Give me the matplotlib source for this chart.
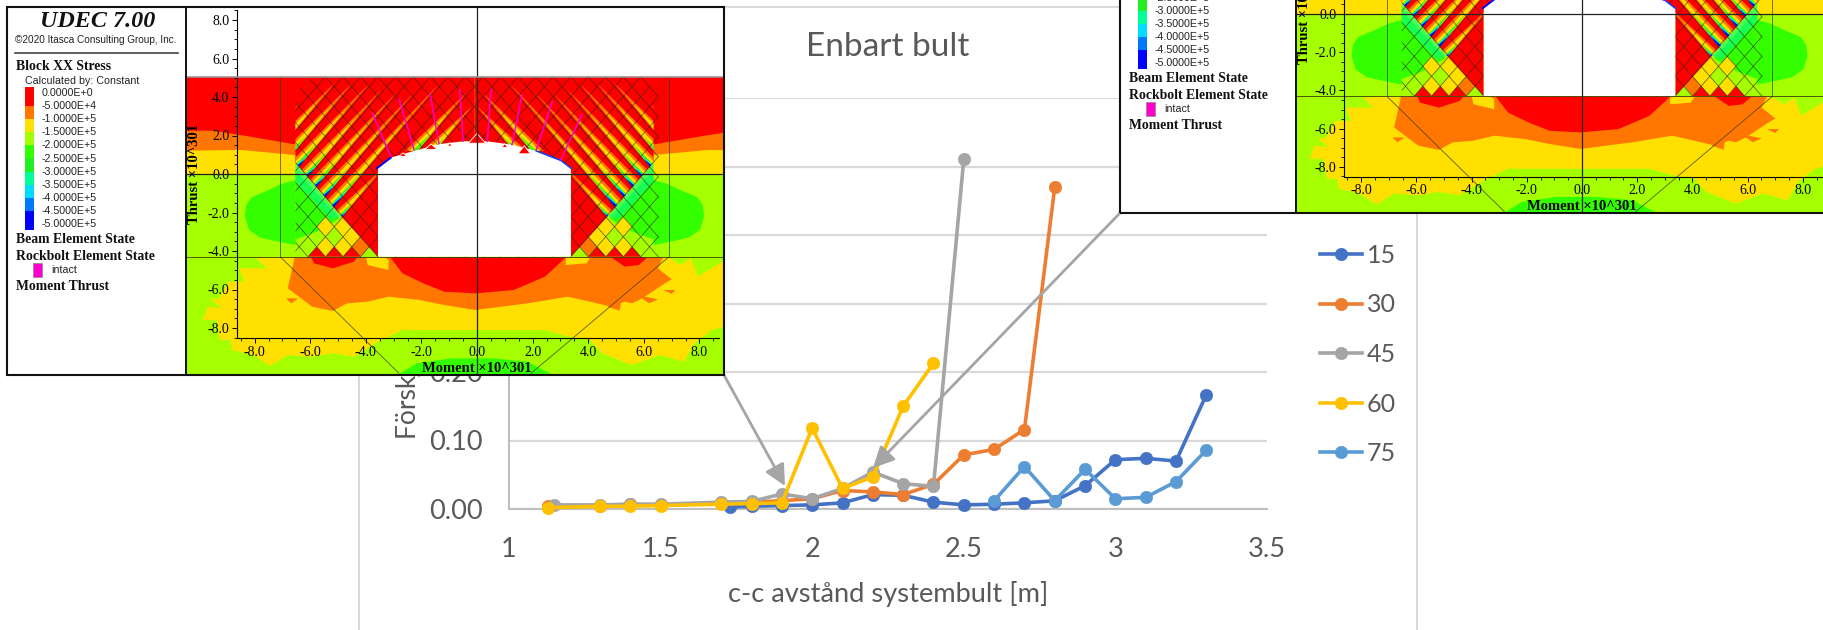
import matplotlib
matplotlib.use("Agg")
import matplotlib.pyplot as plt
from matplotlib.patches import Polygon, Rectangle

W, H_FIG = 1823, 630

# ---------- chart data ----------
x15 = [1.73, 1.8, 1.9, 2.0, 2.1, 2.2, 2.3, 2.4, 2.5, 2.6, 2.7, 2.8, 2.9, 3.0, 3.1, 3.2, 3.3]
y15 = [0.003, 0.004, 0.005, 0.006, 0.009, 0.021, 0.020, 0.010, 0.006, 0.007, 0.009, 0.012, 0.034, 0.072, 0.074, 0.070, 0.167]
x30 = [1.13, 1.3, 1.4, 1.5, 1.7, 1.8, 1.9, 2.0, 2.1, 2.2, 2.3, 2.4, 2.5, 2.6, 2.7, 2.8]
y30 = [0.004, 0.005, 0.007, 0.006, 0.009, 0.010, 0.012, 0.015, 0.027, 0.025, 0.021, 0.036, 0.079, 0.087, 0.116, 0.47]
x45 = [1.15, 1.3, 1.4, 1.5, 1.7, 1.8, 1.9, 2.0, 2.1, 2.2, 2.3, 2.4, 2.5]
y45 = [0.006, 0.006, 0.007, 0.007, 0.010, 0.011, 0.022, 0.015, 0.030, 0.054, 0.037, 0.033, 0.511]
x60 = [1.13, 1.3, 1.4, 1.5, 1.7, 1.8, 1.9, 2.0, 2.1, 2.2, 2.3, 2.4]
y60 = [0.002, 0.004, 0.004, 0.005, 0.007, 0.008, 0.009, 0.118, 0.030, 0.047, 0.150, 0.213]
x75 = [2.6, 2.7, 2.8, 2.9, 3.0, 3.1, 3.2, 3.3]
y75 = [0.012, 0.062, 0.012, 0.058, 0.015, 0.017, 0.040, 0.086]
series_names = ["15", "30", "45", "60", "75"]
series_colors = ["#4472C4", "#ED7D31", "#A5A5A5", "#FFC000", "#5B9BD5"]
x_ticks = [1, 1.5, 2, 2.5, 3, 3.5]
x_tick_labels = ["1", "1.5", "2", "2.5", "3", "3.5"]
y_ticks = [0, 0.1, 0.2, 0.3, 0.4, 0.5, 0.6]
y_tick_labels = ["0.00", "0.10", "0.20", "0.30", "0.40", "0.50", "0.60"]

# ---------- UDEC legend content ----------
udec_levels = ["0.0000E+0", "-5.0000E+4", "-1.0000E+5", "-1.5000E+5", "-2.0000E+5", "-2.5000E+5",
               "-3.0000E+5", "-3.5000E+5", "-4.0000E+5", "-4.5000E+5", "-5.0000E+5"]
udec_colors = ["#FF0000", "#FF7700", "#FFE000", "#A5FF00", "#33FF00", "#22EE22",
               "#00FF99", "#00DDFF", "#0077FF", "#0000FF"]
RED, ORANGE, YELLOW, YGREEN, GREEN = udec_colors[:5]
TEAL, CYAN, BLUE = udec_colors[6], udec_colors[7], udec_colors[9]

# ---------- UDEC model geometry (model units) ----------
LH, LS = 0.63, 1.65          # joint spacing and slope
WL, WR = -3.56, 3.38         # tunnel walls
FLOOR, ZTOP = -4.3, 5.05
XM = (WL + WR) / 2
roof = [(-3.6, 0.3), (-3.1, 0.85), (-2.26, 1.2), (-1.37, 1.55), (-0.5, 1.7), (0.37, 1.7),
        (1.26, 1.52), (2.13, 1.2), (3.02, 0.7), (3.38, 0.3)]
bolts = [((-3.10, 0.92), (-3.77, 3.17)), ((-2.26, 1.26), (-2.80, 3.86)), ((-1.37, 1.58), (-1.68, 4.12)),
         ((-0.50, 1.70), (-0.62, 4.38)), ((0.37, 1.70), (0.50, 4.38)), ((1.26, 1.52), (1.62, 4.12)),
         ((2.13, 1.26), (2.71, 3.77)), ((3.02, 0.74), (3.77, 3.08))]
# lane index, tip height of the coloured wedge
lanes = [(2, 3.5), (3, 4.2), (4, 0.3), (5, 4.7), (6, 4.2), (7, 4.2), (8, 4.4), (9, 4.7), (10, 4.7), (11, 4.75), (12, 3.6)]
lane_start = {2: 1.2, 3: 1.2}
yellow_cells = [(2, 1), (3, 1), (1.5, 2), (2, 3), (3, 3)]
orange_cells = [(1, 1)]
red_tris = [1.5, 2.5, 3.5]
green_lobe = [(-8.3, -1.6), (-8.1, -1.2), (-7.6, -0.9), (-7.0, -0.5), (-6.5, -0.3), (-5.9, -0.8), (-5.0, -2.3),
              (-5.4, -2.9), (-6.0, -3.4), (-6.5, -3.7), (-7.2, -3.5), (-7.8, -3.3), (-8.2, -2.9), (-8.35, -2.2)]

# outlines of the lower field (crop coordinates)
yellow_out = [(330, 52), (290, 52), (220, 55), (250, 85), (170, 85), (185, 125), (140, 125), (110, 180), (85, 175),
              (120, 205), (80, 200), (65, 240), (105, 240), (115, 300), (145, 300), (150, 330), (210, 345), (260, 378),
              (310, 345), (380, 350), (440, 340), (500, 350), (560, 310), (600, 290), (640, 270), (850, 270),
              (1050, 270), (1120, 290), (1180, 300), (1215, 340), (1300, 375), (1380, 345), (1450, 365), (1480, 310),
              (1530, 270), (1568, 260), (1568, 60), (1520, 90), (1490, 110), (1470, 55), (1440, 75), (1410, 55), (1380, 52)]
orange_out = [(330, 52), (310, 145), (380, 200), (440, 213), (480, 190), (540, 185), (600, 170), (690, 180), (760, 195),
              (850, 210), (1000, 190), (1115, 170), (1180, 185), (1240, 200), (1280, 185), (1300, 190), (1330, 175),
              (1395, 130), (1415, 118), (1375, 85), (1390, 52)]
red_dome = [(605, 52), (640, 100), (700, 130), (760, 155), (850, 160), (960, 150), (1050, 110), (1110, 52)]
red_bits = [[(378, 52), (385, 70), (440, 85), (500, 65), (510, 52)], [(1240, 52), (1280, 80), (1320, 75), (1345, 52)]]
yellow_bits = [[(535, 52), (540, 75), (600, 90), (600, 60), (590, 52)], [(1110, 52), (1110, 75), (1170, 70), (1180, 52)]]
orange_tris = [[(305, 175), (340, 175), (320, 190)], [(1230, 200), (1270, 175), (1265, 212)],
               [(1315, 165), (1375, 178), (1350, 190)], [(1390, 150), (1425, 150), (1415, 162)]]
green_dome = [(630, 403), (680, 370), (780, 355), (900, 355), (1000, 365), (1070, 403)]
octagon_L = [(290, 52), (630, 400)]
octagon_R = [(1405, 52), (1010, 400)]


def crop2model(pts):
    return [((zx / 2.877 - 297) / 27.8, (-66 - zy / 3) / 19.25) for zx, zy in pts]


def mirror(pts):
    return [(2 * XM - x, y) for x, y in pts]


# upper side bands outside the jointed zone
band_red = [(-11, ZTOP), (-5.5, ZTOP), (-5.5, 3.5), (-6.5, 1.4), (-7.0, 1.6), (-8.2, 1.9), (-9.5, 2.2), (-11, 2.2)]
band_orange = [(-11, 2.25), (-9.5, 2.25), (-8.2, 1.95), (-7.0, 1.65), (-6.4, 1.5), (-6.4, 0.9), (-7.0, 1.0), (-8.5, 1.2), (-11, 1.16)]
band_yellow = [(-11, 1.2), (-8.5, 1.25), (-7.0, 1.05), (-6.4, 0.95), (-6.0, 0.0), (-11, 0.0)]


def to_axes_rect(l, t, r, b):
    return [l / W, 1 - b / H_FIG, (r - l) / W, (b - t) / H_FIG]


def wedge(k, y0, y1, f0, f1, f_tip):
    xk = lambda y, f: WL - (k + 1 - f) * LH + (y - FLOOR) / LS
    return [(xk(y0, f0), y0), (xk(y0, f1), y0), (xk(y1, f_tip), y1)]


def draw_field(a):
    # whole plot: blank above the model, base colour below
    a.add_patch(Rectangle((-12, -12), 24, 12 + ZTOP, fc=YGREEN, ec="none", zorder=1))
    a.add_patch(Polygon(crop2model(yellow_out), fc=YELLOW, ec="none", zorder=2))
    a.add_patch(Polygon(crop2model(orange_out), fc=ORANGE, ec="none", zorder=3))
    a.add_patch(Polygon(crop2model(red_dome), fc=RED, ec="none", zorder=4))
    a.add_patch(Polygon(crop2model(green_dome), fc=GREEN, ec="none", zorder=2))
    for p in red_bits:
        a.add_patch(Polygon(crop2model(p), fc=RED, ec="none", zorder=4))
    for p in yellow_bits:
        a.add_patch(Polygon(crop2model(p), fc=YELLOW, ec="none", zorder=4))
    for p in orange_tris:
        a.add_patch(Polygon(crop2model(p), fc=ORANGE, ec="none", zorder=4))
    a.axhline(ZTOP, color="#999999", lw=1.1, zorder=9)

    for flip in (lambda p: p, mirror):
        a.add_patch(Polygon(flip(band_red), fc=RED, ec="none", zorder=2))
        a.add_patch(Polygon(flip(band_orange), fc=ORANGE, ec="none", zorder=2))
        a.add_patch(Polygon(flip(band_yellow), fc=YELLOW, ec="none", zorder=2))
        a.add_patch(Polygon(flip(green_lobe), fc=GREEN, ec="none", zorder=3))

        # lower flank of the jointed zone
        y_b = FLOOR + LS * (WL + 6.53)
        a.add_patch(Polygon(flip([(-6.53, FLOOR), (WL, FLOOR), (-4.87, -2.22), (-6.53, y_b)]),
                            fc=YGREEN, ec="none", zorder=3.2))
        a.add_patch(Polygon(flip([(-6.53, 0.2), (-4.95, -2.3), (-5.6, -2.9), (-6.53, -3.4)]),
                            fc=GREEN, ec="none", zorder=3.3))
        a.add_patch(Polygon(flip([(-6.53, 0.55), (-4.9, -2.2), (-5.25, -2.35), (-6.53, -0.4)]),
                            fc=TEAL, ec="none", alpha=0.55, zorder=3.35))
        dv, dh = LH * LS / 2, LH / 2
        for cells, col in ((yellow_cells, YELLOW), (orange_cells, ORANGE)):
            for ca, cb in cells:
                cx, cy = WL - ca * LH, FLOOR + cb * LH * LS / 2
                a.add_patch(Polygon(flip([(cx, cy - dv), (cx + dh, cy), (cx, cy + dv), (cx - dh, cy)]),
                                    fc=col, ec="none", zorder=3.4))
        for ca in red_tris:
            cx = WL - ca * LH
            a.add_patch(Polygon(flip([(cx - LH / 2, FLOOR), (cx + LH / 2, FLOOR), (cx, FLOOR + LH * LS / 2)]),
                                fc=RED, ec="none", zorder=3.5))
        # red wedge next to the wall
        a.add_patch(Polygon(flip([(WL, FLOOR), (-4.87, -2.22), (WL, -0.05)]), fc=RED, ec="none", zorder=3.6))

        # striped zone above the flank
        zone = Polygon(flip([(WL, -0.05), (-4.87, -2.22), (-6.53, y_b), (-6.53, 4.2), (-5.94, ZTOP), (XM, ZTOP), (XM, 0.0)]),
                       fc=RED, ec="none", zorder=3.7)
        a.add_patch(zone)
        for k, tip in lanes:
            y0 = lane_start.get(k, FLOOR + LS * k * LH / 2)
            L = tip - y0
            layers = [(ORANGE, 1.0, 0.25, 1.0, 0.85), (YELLOW, 0.72, 0.48, 0.96, 0.8), (GREEN, 0.3, 0.68, 0.94, 0.85),
                      (TEAL, 0.18, 0.74, 0.96, 0.88), (CYAN, 0.13, 0.78, 0.97, 0.9), (BLUE, 0.09, 0.8, 1.0, 0.95)]
            for i, (col, frac, f0, f1, ft) in enumerate(layers):
                if k < 4 and i > 2:
                    continue
                p = Polygon(flip(wedge(k, y0, y0 + L * frac, f0, f1, ft)), fc=col, ec="none", zorder=3.8 + i * 0.01)
                a.add_patch(p)
                p.set_clip_path(zone)

    # joint lattice, clipped to the jointed zone
    clip = Polygon([(-6.53, FLOOR), (-6.53, 4.2), (-5.94, ZTOP), (5.94, ZTOP), (6.53, 4.2), (6.53, FLOOR)],
                   fc="none", ec="none", zorder=5)
    a.add_patch(clip)
    for k in range(-28, 29):
        x0 = WL + k * LH
        for sgn in (1, -1):
            ln, = a.plot([x0 - 12 * sgn / LS, x0 + 12 * sgn / LS], [FLOOR - 12, FLOOR + 12], color="#2a2a10",
                         lw=0.55, alpha=0.7, zorder=5.1)
            ln.set_clip_path(clip)

    # tunnel opening
    a.add_patch(Polygon([(WL, FLOOR), (WL, 0.3)] + roof[1:-1] + [(WR, 0.3), (WR, FLOOR)], fc="white", ec="none", zorder=6))
    rx, ry = zip(*roof)
    a.plot(rx[:2], ry[:2], color="#0000FF", lw=1.4, zorder=6.1)
    a.plot(rx[-3:], ry[-3:], color="#0044FF", lw=1.1, zorder=6.1)
    for cx, cy, wd, ht in [(-2.66, 0.92, 0.28, 0.18), (-1.65, 1.28, 0.42, 0.28), (-0.98, 1.45, 0.16, 0.18),
                           (0.0, 1.6, 0.62, 0.5), (1.0, 1.38, 0.2, 0.2), (1.7, 1.05, 0.44, 0.42)]:
        a.add_patch(Polygon([(cx - wd / 2, cy), (cx + wd / 2, cy), (cx, cy + ht)], fc=RED, ec="white", lw=0.6, zorder=6.2))
    for (x0, y0), (x1, y1) in bolts:
        a.plot([x0, x1], [y0, y1], color="#FF00CC", lw=1.1, zorder=6.3)

    # structural outlines
    line = dict(color="#3a3a10", lw=0.6, alpha=0.8, zorder=7)
    a.plot([-7.07, -7.07], [FLOOR, ZTOP], **line)
    a.plot([6.9, 6.9], [FLOOR, ZTOP], **line)
    a.plot(*zip(*crop2model(octagon_L)), **line)
    a.plot(*zip(*crop2model(octagon_R)), **line)
    a.axhline(FLOOR, color="#3a3a10", lw=0.7, alpha=0.85, zorder=7)
    a.axhline(0, color="#222222", lw=0.9, zorder=7)
    a.axvline(0, color="#222222", lw=0.9, zorder=7)


def draw_udec(frame_l, frame_t, frame_r, frame_b, divider, x0, y0, ux, uy):
    # legend strip, pixel-like coordinates relative to the frame
    lg = fig.add_axes(to_axes_rect(frame_l, frame_t, divider, frame_b), zorder=5)
    lg.set_xlim(0, divider - frame_l)
    lg.set_ylim(frame_b - frame_t, 0)
    lg.set_facecolor("white")
    lg.set_xticks([])
    lg.set_yticks([])
    for s in lg.spines.values():
        s.set_visible(False)
    serif = "Liberation Serif"
    sans = "Liberation Sans"
    bold = dict(family=serif, weight="bold", size=9.9, va="center", color="#111111")
    small = dict(family=sans, size=7.7, va="center", color="#222222")
    lg.text(91, 14.5, "UDEC 7.00", family=serif, weight="bold", style="italic", size=17.4, ha="center", va="center", color="#111111")
    lg.text(89, 33, "©2020 Itasca Consulting Group, Inc.", family=sans, size=7.2, ha="center", va="center", color="#222222")
    lg.plot([8, 171], [45.5, 45.5], color="#444444", lw=1.2)
    lg.text(9, 59, "Block XX Stress", **bold)
    lg.text(18, 73.5, "Calculated by: Constant", **small)
    edges = [80, 99, 112, 125, 138, 151, 164.6, 178, 191, 204, 223]
    for c, e0, e1 in zip(udec_colors, edges[:-1], edges[1:]):
        lg.add_patch(Rectangle((17.5, e0), 9, e1 - e0, fc=c, ec="none"))
    for i, t in enumerate(udec_levels):
        lg.text(35, 86.3 + 13.05 * i, t, **small)
    lg.text(9, 232.5, "Beam Element State", **bold)
    lg.text(9, 249.5, "Rockbolt Element State", **bold)
    lg.add_patch(Rectangle((26, 256), 9, 14, fc="#FF00CC", ec="#888888", lw=0.5))
    lg.text(44, 263, "intact", **small)
    lg.text(9, 279.5, "Moment Thrust", **bold)

    # model plot
    a = fig.add_axes(to_axes_rect(divider, frame_t, frame_r, frame_b), zorder=5)
    a.set_xlim((divider - x0) / ux, (frame_r - x0) / ux)
    a.set_ylim((y0 - frame_b) / uy, (y0 - frame_t) / uy)
    a.set_facecolor("white")
    draw_field(a)
    a.set_axisbelow(False)
    for s in ("top", "right"):
        a.spines[s].set_visible(False)
    a.spines["left"].set_position(("data", -8.63))
    a.spines["bottom"].set_position(("data", -8.52))
    a.spines["left"].set_bounds(-8.52, 8.5)
    a.spines["bottom"].set_bounds(-8.63, 8.7)
    for s in ("left", "bottom"):
        a.spines[s].set_linewidth(0.8)
        a.spines[s].set_zorder(8)
    ticks = [-8, -6, -4, -2, 0, 2, 4, 6, 8]
    labels = ["-8.0", "-6.0", "-4.0", "-2.0", "0.0", "2.0", "4.0", "6.0", "8.0"]
    minors = [v * 0.5 for v in range(-17, 18)]
    a.set_xticks(ticks, labels, family=serif, size=10)
    a.set_yticks(ticks, labels, family=serif, size=10)
    a.set_xticks(minors, minor=True)
    a.set_yticks(minors, minor=True)
    a.tick_params(axis="both", which="major", length=3.5, width=0.7, pad=2, direction="out")
    a.tick_params(axis="both", which="minor", length=2, width=0.6, direction="out")
    a.text(0, (y0 - (frame_b - 7)) / uy, "Moment ×10^301", family=serif, weight="bold", size=10.5,
           ha="center", va="center", color="black", zorder=9)
    a.text((divider + 9 - x0) / ux, 0, "Thrust ×10^301", family=serif, weight="bold", size=10.5, rotation=90,
           ha="center", va="center", color="black", zorder=9)
    # frame around the whole window
    border = Rectangle((frame_l / W, 1 - frame_b / H_FIG), (frame_r - frame_l) / W, (frame_b - frame_t) / H_FIG,
                       transform=fig.transFigure, fc="none", ec="#111111", lw=1.5, zorder=20)
    fig.add_artist(border)
    div = plt.Line2D([divider / W] * 2, [1 - frame_b / H_FIG, 1 - frame_t / H_FIG], transform=fig.transFigure,
                     color="#111111", lw=1.4, zorder=20)
    fig.add_artist(div)


fig = plt.figure(figsize=(W / 100, H_FIG / 100), dpi=100, facecolor="white")

# chart frame and connector arrows share a pixel layer
back = fig.add_axes([0, 0, 1, 1], zorder=0)
back.set_xlim(0, W)
back.set_ylim(H_FIG, 0)
back.axis("off")
frame_col = "#D9D9D9"
back.plot([359, 359, 1417, 1417], [640, 7, 7, 640], color=frame_col, lw=1.5, solid_joinstyle="miter")

ax = fig.add_axes(to_axes_rect(509, 98, 1267, 509), zorder=1)
ax.patch.set_alpha(0)
font = "Lato"
txt = "#595959"
all_series = [(x15, y15), (x30, y30), (x45, y45), (x60, y60), (x75, y75)]
for (xs, ys), name, col in zip(all_series, series_names, series_colors):
    ax.plot(xs, ys, color=col, lw=2.6, marker="o", ms=9, mec=col, mew=0.4, label=name, clip_on=False, zorder=3)
ax.set_xlim(1, 3.5)
ax.set_ylim(0, 0.6)
ax.set_xticks(x_ticks, x_tick_labels, family=font, size=19.5, color=txt)
ax.set_yticks(y_ticks, y_tick_labels, family=font, size=19.5, color=txt)
ax.tick_params(axis="both", length=0)
ax.tick_params(axis="x", pad=20)
ax.tick_params(axis="y", pad=19)
ax.grid(axis="y", color=frame_col, lw=1.6)
ax.set_axisbelow(True)
for s in ("top", "right"):
    ax.spines[s].set_visible(False)
for s in ("left", "bottom"):
    ax.spines[s].set_color("#BFBFBF")
    ax.spines[s].set_linewidth(1.5)
ax.set_title("Enbart bult", family=font, size=24, color=txt, pad=30)
ax.set_xlabel("c-c avstånd systembult [m]", family=font, size=19.6, color=txt, labelpad=14)
ax.set_ylabel("Förskjutning [m]", family=font, size=19, color=txt, loc="bottom")
ax.yaxis.set_label_coords((421 - 509) / 758, (509 - 439) / 411)
ax.legend(loc="upper left", bbox_to_anchor=((1320 - 509) / 758, (509 - 244) / 411), frameon=False,
          prop={"family": font, "size": 18}, labelcolor=txt, handlelength=1.68, handletextpad=0.2,
          labelspacing=1.06, borderpad=0, borderaxespad=0)

arrows = fig.add_axes([0, 0, 1, 1], zorder=2)
arrows.set_xlim(0, W)
arrows.set_ylim(H_FIG, 0)
arrows.axis("off")
arrow_style = dict(arrowstyle="-|>,head_length=0.85,head_width=0.42", color="#A5A5A5", lw=2, mutation_scale=15,
                   shrinkA=0, shrinkB=0)
arrows.annotate("", xy=(785, 486), xytext=(724, 375), arrowprops=arrow_style)
arrows.annotate("", xy=(873, 468), xytext=(1120, 213), arrowprops=arrow_style)

draw_udec(7, 7, 724, 375, 186, 477, 174, 27.8, 19.25)
draw_udec(1120, -154, 1833, 213, 1296, 1582, 14, 27.6, 19.1)

fig.savefig("out.png", dpi=100)
